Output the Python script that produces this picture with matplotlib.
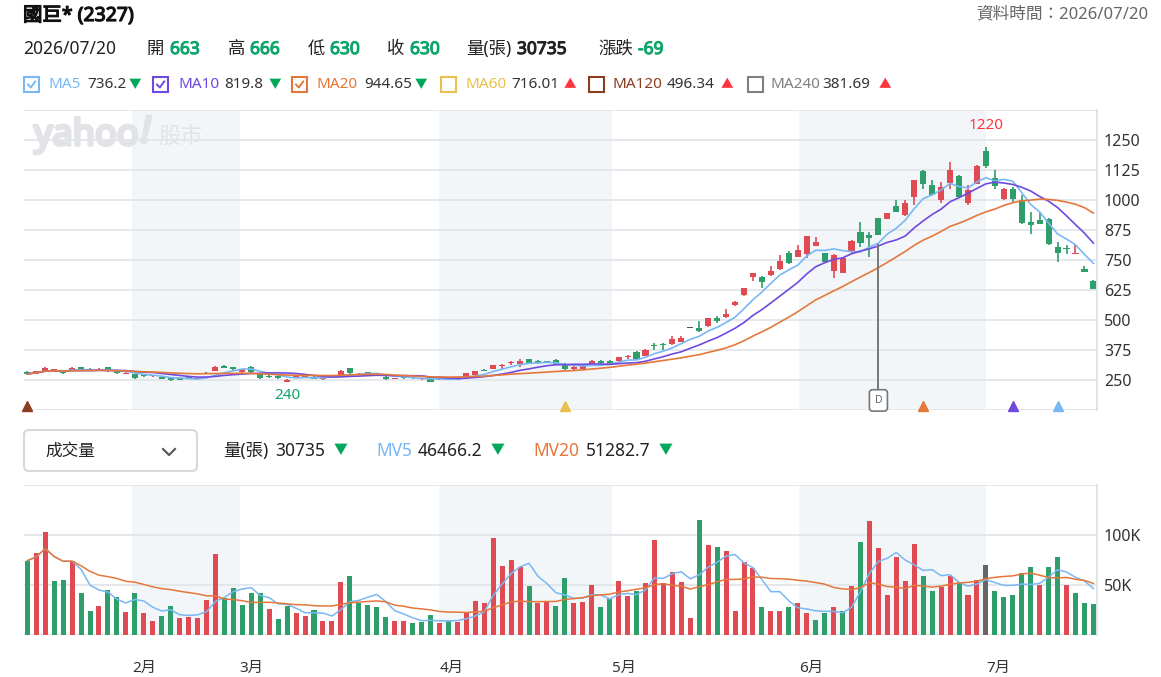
import numpy as np
import pandas as pd
import matplotlib
matplotlib.use("Agg")
import matplotlib.pyplot as plt
import matplotlib.patheffects as pe
from matplotlib.patches import FancyBboxPatch, Rectangle
from matplotlib.lines import Line2D
from matplotlib.transforms import IdentityTransform

plt.rcParams['font.family'] = ['Noto Sans', 'Noto Sans CJK TC', 'DejaVu Sans']

# daily candles, 2327 (prices in TWD)
opens = [283, 275, 286, 292, 286, 289, 303, 297, 292, 303,
         286, 276, 275, 272, 265, 264, 258, 258, 262, 256,
         282, 289, 308, 303, 282, 306, 275, 268, 266, 243,
         262, 264, 264, 254, 260, 272, 299, 272, 283, 272,
         264, 255, 266, 262, 254, 261, 253, 258, 250, 267,
         272, 293, 297, 308, 319, 317, 336, 328, 329, 335,
         318, 294, 297, 317, 331, 330, 328, 344, 367, 350,
         395, 399, 398, 409, 466, 465, 476, 507, 512, 561,
         606, 678, 679, 686, 711, 778, 764, 775, 810, 778,
         706, 696, 786, 867, 856, 924, 921, 975, 936, 1014,
         1121, 1064, 1001, 1071, 1100, 986, 1067, 1204, 1092, 1006,
         1046, 999, 910, 918, 922, 803, 800, 775, 714, 663]
highs = [289, 288, 306, 297, 288, 303, 305, 299, 299, 305,
         288, 282, 277, 275, 271, 266, 260, 260, 264, 259,
         284, 308, 311, 306, 296, 308, 277, 270, 268, 254,
         264, 270, 266, 263, 265, 291, 301, 278, 285, 274,
         266, 260, 268, 264, 258, 263, 260, 260, 264, 280,
         289, 295, 313, 315, 331, 336, 338, 332, 331, 337,
         321, 310, 310, 333, 333, 333, 346, 356, 369, 378,
         404, 404, 432, 433, 466, 494, 510, 517, 546, 578,
         634, 695, 682, 726, 772, 789, 814, 852, 844, 780,
         775, 760, 832, 908, 865, 926, 946, 1001, 1000, 1085,
         1123, 1085, 1074, 1158, 1103, 1064, 1145, 1220, 1125, 1050,
         1056, 1022, 950, 949, 925, 824, 814, 812, 725, 666]
lows = [274, 273, 285, 290, 276, 288, 290, 289, 291, 284,
        276, 275, 256, 263, 263, 254, 247, 249, 253, 254,
        276, 287, 298, 292, 280, 280, 256, 260, 256, 240,
        260, 262, 254, 252, 258, 270, 276, 270, 268, 268,
        252, 253, 256, 255, 252, 241, 251, 248, 248, 265,
        270, 286, 295, 294, 313, 303, 315, 318, 320, 315,
        292, 292, 295, 315, 318, 316, 326, 337, 334, 348,
        376, 376, 396, 407, 466, 449, 472, 486, 510, 558,
        602, 664, 633, 684, 709, 735, 762, 758, 808, 740,
        675, 694, 778, 805, 764, 854, 919, 949, 934, 978,
        1044, 1019, 988, 1044, 1012, 981, 1065, 1133, 1044, 1002,
        989, 902, 858, 898, 813, 742, 775, 773, 698, 630]
closes = [275, 286, 299, 295, 278, 299, 292, 290, 297, 286,
          278, 280, 258, 267, 269, 256, 249, 251, 255, 257,
          282, 306, 300, 297, 294, 282, 258, 262, 258, 252,
          263, 267, 256, 261, 263, 289, 278, 276, 275, 270,
          254, 258, 260, 257, 256, 243, 258, 250, 262, 278,
          287, 288, 311, 313, 326, 331, 317, 321, 322, 317,
          294, 303, 308, 331, 320, 318, 344, 351, 336, 376,
          392, 396, 420, 424, 466, 454, 507, 497, 525, 575,
          632, 694, 658, 706, 747, 739, 793, 850, 824, 743,
          772, 757, 829, 819, 842, 856, 944, 951, 986, 1083,
          1065, 1021, 1053, 1125, 1014, 1042, 1142, 1142, 1057, 1047,
          1004, 904, 896, 900, 815, 778, 796, 778, 699, 630]
# volume in thousand lots
volumes = [74.3, 82, 103, 54.3, 55.3, 74, 41.7, 24.3, 29.3, 45.3,
           38.3, 23, 41.7, 21.7, 14.3, 19.3, 29.3, 16.7, 18.3, 17,
           35.3, 80.7, 37, 47, 30.3, 41.7, 41.7, 25.7, 15.7, 29,
           21.7, 19.3, 25.3, 14.3, 14.3, 53.3, 59.3, 31.7, 30.3, 28,
           18, 14.3, 14.3, 11.7, 13, 20.3, 11.7, 13.7, 13.3, 22.3,
           34.3, 31.7, 96.7, 69.3, 75.3, 68, 49.3, 31.7, 33, 29.3,
           57, 32, 33.3, 50.3, 28.3, 35.7, 54.3, 39.3, 44.3, 52,
           95.3, 52, 63.3, 53.3, 17, 115.3, 90.3, 88, 84.3, 24.3,
           73.3, 66.7, 28, 24.3, 24.3, 28, 31.7, 21.7, 15.3, 21.7,
           28, 24.3, 49.3, 93, 114.3, 87, 40.3, 78.3, 54.3, 90.7,
           59, 44.3, 48.3, 59, 52, 40.3, 55.3, 70.3, 44.3, 38,
           40.3, 62, 68, 50.3, 68, 78.2, 50.3, 41.7, 31.7, 30.735]

month_labels = ['2月', '3月', '4月', '5月', '6月', '7月']
month_starts = [11.7, 23.7, 46.0, 65.3, 86.1, 107.0]
shaded = [(11.7, 23.7), (46.0, 65.3), (86.1, 107.0)]

ma_names = ['MA5', 'MA10', 'MA20', 'MA60', 'MA120', 'MA240']
ma_values = ['736.2', '819.8', '944.65', '716.01', '496.34', '381.69']
ma_up = [False, False, False, True, True, True]
ma_checked = [True, True, True, False, False, False]

signal_idx = [0, 60, 100, 110, 115]
dividend_idx = 95

RED = '#df4a53'
GREEN = '#2e9e6b'
GRAY = '#666666'
TXT_GREEN = '#0ea56b'
TXT_RED = '#ff333a'
MA_COLORS = ['#79b8f3', '#7049e0', '#e5773a', '#eabf4c', '#8c3d1e', '#808080']
GRID = '#e2e5ea'
BAND = '#f3f6f9'

W, H = 1161, 677
fig = plt.figure(figsize=(W / 100, H / 100), dpi=100)


def fx(x):
    return x / W


def fy(y):
    return 1 - y / H


def ftext(x, y, s, bold=0, **kw):
    kw.setdefault('va', 'center')
    kw.setdefault('color', '#222222')
    t = fig.text(fx(x), fy(y), s, **kw)
    if bold:
        # fake bold: the installed Noto fonts have no bold face
        t.set_path_effects([pe.withStroke(linewidth=bold, foreground=kw['color'])])
    return t


# ---- header ----
ftext(23, 16, '國巨* (2327)', bold=0.9, fontsize=14, color='#111111')
ftext(1148, 14, '資料時間：2026/07/20', fontsize=12, color='#666666', ha='right')

ftext(23, 49, '2026/07/20', fontsize=12.5)
row = [('開', 147, '663', 170), ('高', 228, '666', 250), ('低', 308, '630', 330),
       ('收', 387, '630', 410)]
for lab, lx, val, vx in row:
    ftext(lx, 49, lab, fontsize=12.5)
    ftext(vx, 49, val, bold=0.8, fontsize=12.5, color=TXT_GREEN)
ftext(466, 49, '量(張)', fontsize=12.5)
ftext(517, 49, '30735', bold=0.8, fontsize=12.5, color='#222222')
ftext(598, 49, '漲跌', fontsize=12.5)
ftext(638, 49, '-69', bold=0.8, fontsize=12.5, color=TXT_GREEN)

ident = IdentityTransform()
box_x = [24, 153, 292, 441, 589, 748]
name_x = [48, 178, 317, 465, 612, 770]
val_x = [87, 224, 364, 511, 667, 822]
arr_x = [135, 275, 421, 570, 727, 885]
for i in range(6):
    col = MA_COLORS[i]
    bx, by = box_x[i], 77
    fig.add_artist(Rectangle((bx, H - by - 15), 15, 15, transform=ident,
                             facecolor='white', edgecolor=col, lw=1.5))
    if ma_checked[i]:
        fig.add_artist(Line2D([bx + 4, bx + 6.8, bx + 11.2],
                              [H - by - 7.5, H - by - 10.5, H - by - 4.5],
                              transform=ident, color=col, lw=1.4))
    ftext(name_x[i], 85, ma_names[i], fontsize=11, color=col)
    ftext(val_x[i], 85, ma_values[i], fontsize=11, color='#333333')
    ftext(arr_x[i], 85, '▲' if ma_up[i] else '▼', fontsize=9, ha='center',
          color=TXT_RED if ma_up[i] else '#00a85a')

# ---- price panel ----
ax = fig.add_axes([fx(24), fy(410), fx(1097) - fx(24), fy(110) - fy(410)])
idx = np.arange(len(closes))
o = np.array(opens, float)
h = np.array(highs, float)
lo = np.array(lows, float)
c = np.array(closes, float)
ccol = np.where(c > o, RED, np.where(c < o, GREEN, '#555555'))

for a, b in shaded:
    ax.axvspan(a, b, color=BAND, lw=0, zorder=0)
for yv in np.arange(125, 1376, 125):
    ax.axhline(yv, color=GRID, lw=1.3, zorder=1)

ax.vlines(idx, lo, h, colors=ccol, lw=1.2, zorder=3)
ax.bar(idx, np.maximum(np.abs(c - o), 3), bottom=np.minimum(o, c), width=0.68,
       color=ccol, zorder=3)

cs = pd.Series(c)
for n, col in zip([5, 10, 20], MA_COLORS[:3]):
    ax.plot(idx, cs.rolling(n, min_periods=1).mean(), color=col, lw=1.2, zorder=4)

ax.set_xlim(-0.37, 119.4)
ax.set_ylim(125, 1375)
ax.set_yticks(np.arange(250, 1251, 125))
ax.yaxis.tick_right()
ax.tick_params(axis='y', length=0, pad=5, labelsize=11.5, labelcolor='#333333')
ax.set_xticks([])
for s in ['left', 'top', 'bottom']:
    ax.spines[s].set_visible(False)
ax.spines['right'].set_color('#dde1e6')
ax.spines['right'].set_linewidth(1.3)

# watermark
ftext(34, 136, 'yahoo', bold=2.4, fontsize=26, color='#e1e3e6')
ftext(141, 133, '!', bold=2.4, fontsize=26, color='#e1e3e6', style='italic')
ftext(158, 137, '股市', fontsize=16, color='#e1e3e6')

# high / low labels
imax = int(np.argmax(h))
imin = int(np.argmin(lo))
ax.annotate(f'{h[imax]:.0f}', (imax, h[imax]), xytext=(0, 10), textcoords='offset points',
            ha='center', va='bottom', color=TXT_RED, fontsize=11)
ax.annotate(f'{lo[imin]:.0f}', (imin, lo[imin]), xytext=(0, -4), textcoords='offset points',
            ha='center', va='top', color=TXT_GREEN, fontsize=11)

# MA cross signals along the bottom
sig_cols = [MA_COLORS[4], MA_COLORS[3], MA_COLORS[2], MA_COLORS[1], MA_COLORS[0]]
for si, sc in zip(signal_idx, sig_cols):
    ax.plot(si, 0.014, marker='^', ms=7, color=sc, transform=ax.get_xaxis_transform(),
            clip_on=False, zorder=5)

# dividend marker
ax.plot([dividend_idx, dividend_idx], [0.04, 0.55], color='#777777', lw=1.4, zorder=5,
        transform=ax.get_xaxis_transform())
ax.text(dividend_idx, 0.032, 'D', transform=ax.get_xaxis_transform(), ha='center', va='center',
        fontsize=7.5, fontweight='bold', color='#666666', zorder=6,
        bbox=dict(boxstyle='round,pad=0.5,rounding_size=0.3', fc='white', ec='#777777', lw=1.2))

# ---- volume header ----
fig.add_artist(FancyBboxPatch((24, H - 471), 173, 41, transform=ident,
                              boxstyle='round,pad=0,rounding_size=5',
                              facecolor='white', edgecolor='#d6d9dd', lw=1.5))
ftext(45, 452, '成交量', fontsize=12)
fig.add_artist(Line2D([163, 169, 175], [H - 449, H - 455, H - 449], transform=ident,
                      color='#555555', lw=1.5))
ftext(223, 451, '量(張)', fontsize=12.5)
ftext(275, 451, '30735', fontsize=12.5, color='#222222')
ftext(341, 451, '▼', fontsize=10, ha='center', color='#00a85a')
ftext(376, 451, 'MV5', fontsize=12.5, color=MA_COLORS[0])
ftext(418, 451, '46466.2', fontsize=12.5, color='#222222')
ftext(498, 451, '▼', fontsize=10, ha='center', color='#00a85a')
ftext(533, 451, 'MV20', fontsize=12.5, color=MA_COLORS[2])
ftext(586, 451, '51282.7', fontsize=12.5, color='#222222')
ftext(666, 451, '▼', fontsize=10, ha='center', color='#00a85a')

# ---- volume panel ----
axv = fig.add_axes([fx(24), fy(635), fx(1097) - fx(24), fy(485) - fy(635)])
prev = np.concatenate([[o[0]], c[:-1]])
vcol = np.where(c > prev, RED, np.where(c < prev, GREEN, GRAY))
for a, b in shaded:
    axv.axvspan(a, b, color=BAND, lw=0, zorder=0)
for yv in [0, 50, 100, 150]:
    axv.axhline(yv, color=GRID, lw=1.3, zorder=1)
axv.bar(idx, volumes, width=0.56, color=vcol, zorder=3)
vs = pd.Series(volumes)
axv.plot(idx, vs.rolling(5, min_periods=1).mean(), color=MA_COLORS[0], lw=1.1, zorder=4)
axv.plot(idx, vs.rolling(20, min_periods=1).mean(), color=MA_COLORS[2], lw=1.1, zorder=4)

axv.set_xlim(-0.37, 119.4)
axv.set_ylim(0, 150)
axv.set_yticks([50, 100])
axv.set_yticklabels(['50K', '100K'])
axv.yaxis.tick_right()
axv.tick_params(axis='y', length=0, pad=5, labelsize=11.5, labelcolor='#333333')
axv.set_xticks(month_starts)
axv.set_xticklabels(month_labels)
for t in axv.get_xticklabels():
    t.set_ha('left')
axv.tick_params(axis='x', length=0, pad=19, labelsize=11, labelcolor='#333333')
for s in ['left', 'top', 'bottom']:
    axv.spines[s].set_visible(False)
axv.spines['right'].set_color('#dde1e6')
axv.spines['right'].set_linewidth(1.3)

fig.savefig('out.png', dpi=100)
